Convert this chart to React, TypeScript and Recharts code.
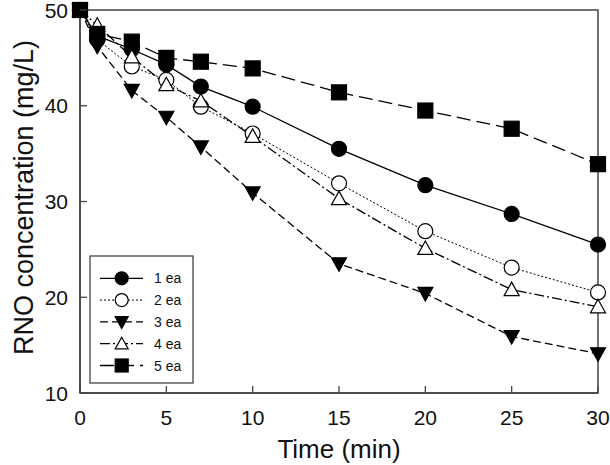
import { LineChart, Line, XAxis, YAxis, ReferenceArea } from 'recharts';

// sampling times (min)
const time = [0, 1, 3, 5, 7, 10, 15, 20, 25, 30];

// RNO concentration (mg/L) for each number of electrodes
const ea1 = [50, 47.3, 45.9, 44.3, 42.0, 39.9, 35.5, 31.7, 28.7, 25.5];
const ea2 = [50, 46.9, 44.1, 42.7, 39.9, 37.1, 31.9, 26.9, 23.1, 20.5];
const ea3 = [50, 46.2, 41.6, 38.8, 35.7, 30.9, 23.5, 20.4, 15.9, 14.1];
const ea4 = [50, 48.4, 45.1, 42.2, 40.5, 36.8, 30.3, 25.1, 20.8, 19.0];
const ea5 = [50, 47.5, 46.7, 45.0, 44.6, 43.9, 41.4, 39.5, 37.6, 33.9];

const xTicks = [0, 5, 10, 15, 20, 25, 30];
const yTicks = [10, 20, 30, 40, 50];

type Shape = 'circle' | 'triangleDown' | 'triangle' | 'square';

interface Series {
  key: string;
  name: string;
  values: number[];
  shape: Shape;
  filled: boolean;
  dash?: string;
  width: number;
}

const series: Series[] = [
  { key: 'ea1', name: '1 ea', values: ea1, shape: 'circle', filled: true, width: 1.3 },
  { key: 'ea2', name: '2 ea', values: ea2, shape: 'circle', filled: false, dash: '2 2', width: 1 },
  { key: 'ea3', name: '3 ea', values: ea3, shape: 'triangleDown', filled: true, dash: '8 4', width: 1.3 },
  { key: 'ea4', name: '4 ea', values: ea4, shape: 'triangle', filled: false, dash: '10 3 2 3', width: 1.3 },
  { key: 'ea5', name: '5 ea', values: ea5, shape: 'square', filled: true, dash: '14 6', width: 1.3 },
];

const data = time.map((t, i) => {
  const row: Record<string, number> = { time: t };
  series.forEach((s) => {
    row[s.key] = s.values[i];
  });
  return row;
});

const FONT = '"Liberation Sans", Arial, Helvetica, sans-serif';
const AXIS = '#444';

function Marker({ cx, cy, shape, filled, size }: { cx: number; cy: number; shape: Shape; filled: boolean; size: number }) {
  const fill = filled ? '#000' : '#fff';
  const r = size / 2;
  const common = { fill, stroke: '#000', strokeWidth: 1.2 };
  if (shape === 'circle') return <circle cx={cx} cy={cy} r={r} {...common} />;
  if (shape === 'square') return <rect x={cx - r} y={cy - r} width={size} height={size} {...common} />;
  if (shape === 'triangle')
    return <polygon points={`${cx},${cy - r} ${cx + r},${cy + r * 0.8} ${cx - r},${cy + r * 0.8}`} {...common} />;
  return <polygon points={`${cx - r},${cy - r * 0.8} ${cx + r},${cy - r * 0.8} ${cx},${cy + r}`} {...common} />;
}

function XTick(props: any) {
  const { x, y, payload } = props;
  return (
    <g>
      <line x1={x} x2={x} y1={y} y2={y - 7} stroke={AXIS} strokeWidth={1.3} />
      <text x={x} y={y + 32} textAnchor="middle" fontSize={21} fontFamily={FONT} fill="#111">
        {payload.value}
      </text>
    </g>
  );
}

function YTick(props: any) {
  const { x, y, payload } = props;
  return (
    <g>
      <line x1={x} x2={x + 7} y1={y} y2={y} stroke={AXIS} strokeWidth={1.3} />
      <text x={x - 12} y={y + 7.5} textAnchor="end" fontSize={21} fontFamily={FONT} fill="#111">
        {payload.value}
      </text>
    </g>
  );
}

function XTitle(props: any) {
  const vb = props.viewBox ?? { x: 80, y: 393, width: 518 };
  return (
    <text x={vb.x + vb.width / 2} y={vb.y + 65} textAnchor="middle" fontSize={26} fontFamily={FONT} fill="#111">
      Time (min)
    </text>
  );
}

function YTitle(props: any) {
  const vb = props.viewBox ?? { x: 0, y: 10, height: 383 };
  const cx = vb.x + 33;
  const cy = vb.y + vb.height / 2 - 4;
  return (
    <text
      transform={`translate(${cx},${cy}) rotate(-90)`}
      textAnchor="middle"
      fontSize={27}
      fontFamily={FONT}
      fill="#111"
    >
      RNO concentration (mg/L)
    </text>
  );
}

function LegendBox() {
  const rowGap = 21.8;
  return (
    <svg width={610} height={465} style={{ position: 'absolute', left: 0, top: 0, pointerEvents: 'none' }}>
      <rect x={90} y={256} width={103} height={127} fill="#fff" stroke={AXIS} strokeWidth={1.3} />
      {series.map((s, i) => {
        const y = 278.3 + i * rowGap;
        return (
          <g key={s.key}>
            <line x1={100} x2={143} y1={y} y2={y} stroke="#000" strokeWidth={s.width} strokeDasharray={s.dash} />
            <Marker cx={121.7} cy={y} shape={s.shape} filled={s.filled} size={13} />
            <text x={154} y={y + 5} fontSize={14} fontFamily={FONT} fill="#111">
              {s.name}
            </text>
          </g>
        );
      })}
    </svg>
  );
}

export default function App() {
  return (
    <div style={{ position: 'absolute', left: 0, top: 0, width: 610, height: 465, background: '#fff' }}>
      <LineChart width={610} height={465} data={data} margin={{ top: 10, right: 12, bottom: 0, left: 0 }}>
        <XAxis
          type="number"
          dataKey="time"
          domain={[0, 30]}
          ticks={xTicks}
          interval={0}
          height={72}
          tickSize={0}
          tickMargin={0}
          tickLine={false}
          tick={<XTick />}
          axisLine={{ stroke: AXIS, strokeWidth: 1.5 }}
          label={<XTitle />}
        />
        <YAxis
          type="number"
          domain={[10, 50]}
          ticks={yTicks}
          interval={0}
          width={80}
          tickSize={0}
          tickMargin={0}
          tickLine={false}
          tick={<YTick />}
          axisLine={{ stroke: AXIS, strokeWidth: 1.5 }}
          label={<YTitle />}
        />
        <ReferenceArea x1={0} x2={30} y1={10} y2={50} fill="none" stroke={AXIS} strokeWidth={1.5} />
        {series.map((s) => (
          <Line
            key={s.key}
            dataKey={s.key}
            name={s.name}
            type="linear"
            stroke="#000"
            strokeWidth={s.width}
            strokeDasharray={s.dash}
            isAnimationActive={false}
            dot={(p: any) => (
              <Marker key={`${s.key}-${p.index}`} cx={p.cx} cy={p.cy} shape={s.shape} filled={s.filled} size={15} />
            )}
            activeDot={false}
          />
        ))}
      </LineChart>
      <LegendBox />
    </div>
  );
}
